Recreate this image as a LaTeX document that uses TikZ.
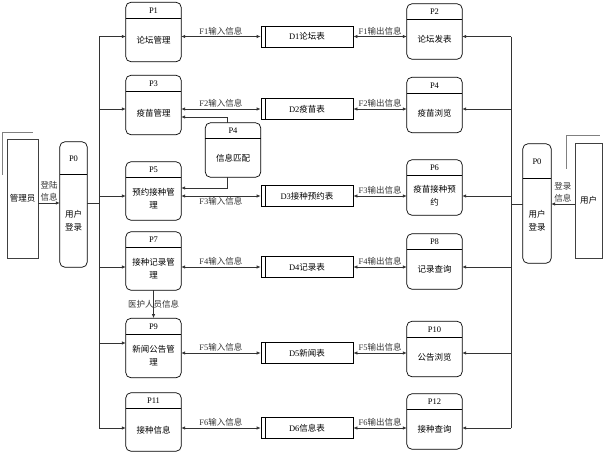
\documentclass[tikz,border=0pt]{standalone}
\usepackage{fontspec}
\setmainfont{Liberation Serif}
\newfontfamily\cjk{Noto Sans CJK SC}
\usetikzlibrary{arrows.meta}

% process box: [body height]{name}{body centre}{number}{text}
\newcommand{\procbox}[5][43pt]{%
  \node[procbody, minimum height=#1] (#2) at (#3) {#5};
  \draw[procline] ([yshift=16pt]#2.north west) rectangle (#2.south east);
  \draw[procline] (#2.north west) -- (#2.north east);
  \node[prochead] (#2h) at ([yshift=8pt]#2.north) {#4};
}

\begin{document}
\begin{tikzpicture}[
    x=1pt, y=-1pt,
    every node/.style={font=\fontsize{8.5}{13}\selectfont},
    procbody/.style={minimum width=55pt, inner sep=1pt, align=center,
      font=\cjk\fontsize{8.5}{13}\selectfont},
    prochead/.style={minimum width=55pt, minimum height=16pt, inner sep=0pt},
    procline/.style={rounded corners=5pt, line width=0.7pt},
    store/.style={draw, line width=0.7pt, minimum width=92pt, minimum height=21pt,
      inner sep=1pt, path picture={\draw[line width=0.7pt]
        ([xshift=4pt]path picture bounding box.north west) --
        ([xshift=4pt]path picture bounding box.south west);}},
    entity/.style={draw=black!75, line width=0.8pt, inner sep=1pt,
      font=\cjk\fontsize{8.5}{13}\selectfont},
    bracket/.style={draw=black!50, line width=1pt},
    link/.style={black!80, line width=0.7pt},
    flow/.style={link, -{Latex[length=4pt,width=3.5pt]}},
    dflow/.style={link, {Latex[length=4pt,width=3.5pt]}-{Latex[length=4pt,width=3.5pt]}},
    flabel/.style={inner sep=1pt},
    cjklabel/.style={inner sep=1pt, align=center, font=\cjk\fontsize{8.5}{12}\selectfont}
  ]
    \useasboundingbox (0,0) rectangle (605,453);

    % external entities
    \node[entity, minimum width=31pt, minimum height=119pt] (admin) at (22.5,198.5) {管理员};
    \draw[bracket] ([xshift=26pt,yshift=6pt]admin.north west) -| ([xshift=-4pt,yshift=-36pt]admin.north west);
    \node[entity, minimum width=27pt, minimum height=115pt] (user) at (588.5,200.5) {用户};
    \draw[bracket] ([xshift=25pt,yshift=7pt]user.north west) -| ([xshift=-8pt,yshift=-26pt]user.north west);

    % login processes
    \node[procbody, minimum width=27pt, minimum height=92pt] (p0l) at (73.5,221) {用户\\登录};
    \draw[procline] ([yshift=33pt]p0l.north west) rectangle (p0l.south east);
    \draw[procline] (p0l.north west) -- (p0l.north east);
    \node[prochead, minimum width=27pt, minimum height=33pt] (p0lh) at ([yshift=16.5pt]p0l.north) {P0};
    \node[procbody, minimum width=28pt, minimum height=84pt] (p0r) at (537,221) {用户\\登录};
    \draw[procline] ([yshift=35pt]p0r.north west) rectangle (p0r.south east);
    \draw[procline] (p0r.north west) -- (p0r.north east);
    \node[prochead, minimum width=28pt, minimum height=35pt] (p0rh) at ([yshift=17.5pt]p0r.north) {P0};

    % management processes
    \procbox{p1}{153.5,40}{P1}{论坛管理}
    \procbox{p3}{153.5,113}{P3}{疫苗管理}
    \procbox[42pt]{p5}{153.5,199}{P5}{预约接种管\\理}
    \procbox[42pt]{p7}{153.5,269}{P7}{接种记录管\\理}
    \procbox{p9}{153.5,356}{P9}{新闻公告管\\理}
    \procbox[42pt]{p11}{153.5,430}{P11}{接种信息}
    \procbox[38pt]{pm}{233,158}{P4}{信息匹配}

    % user processes
    \procbox[39pt]{p2}{434.5,39.5}{P2}{论坛发表}
    \procbox[39pt]{p4}{434.5,113}{P4}{疫苗浏览}
    \procbox[39pt]{p6}{434.5,195.5}{P6}{疫苗接种预\\约}
    \procbox[39pt]{p8}{434.5,269.5}{P8}{记录查询}
    \procbox[39pt]{p10}{434.5,357}{P10}{公告浏览}
    \procbox[39pt]{p12}{434.5,429.5}{P12}{接种查询}

    % data stores
    \node[store] (d1) at (307,36.5) {D1{\cjk 论坛表}};
    \node[store] (d2) at (307,109) {D2{\cjk 疫苗表}};
    \node[store] (d3) at (307,196) {D3{\cjk 接种预约表}};
    \node[store] (d4) at (307,267) {D4{\cjk 记录表}};
    \node[store] (d5) at (307,353) {D5{\cjk 新闻表}};
    \node[store] (d6) at (307,428) {D6{\cjk 信息表}};

    % flows to and from the stores
    \foreach \p/\d/\k/\side in {p1/d1/1/above, p3/d2/2/above, p5/d3/3/below,
        p7/d4/4/above, p9/d5/5/above, p11/d6/6/above}
      \draw[dflow] (\p.east |- \d) -- node[flabel, \side] {F\k{\cjk 输入信息}} (\d.west);
    \foreach \d/\p/\k in {d1/p2/1, d2/p4/2, d3/p6/3, d4/p8/4, d5/p10/5, d6/p12/6}
      \draw[dflow] (\d.east) -- node[flabel, above] {F\k{\cjk 输出信息}} (\p.west |- \d);

    % buses
    \coordinate (busl) at (99,0);
    \coordinate (busr) at (511,0);
    \coordinate (lrow) at (0,203);
    \coordinate (rrow) at (0,204);
    \coordinate (r9) at ([yshift=13pt]p9.west);
    \draw[link] (busl |- d1) -- (busl |- d6);
    \draw[link] (busr |- d1) -- (busr |- d6);
    \foreach \p/\d in {p1/d1, p3/d2, p5/d3, p7/d4, p11/d6}
      \draw[flow] (busl |- \d) -- (\p.west |- \d);
    \draw[flow] (busl |- r9) -- (r9);
    \foreach \p/\d in {p2/d1, p4/d2, p6/d3, p8/d4, p10/d5, p12/d6}
      \draw[flow] (busr |- \d) -- (\p.east |- \d);

    % login flows
    \draw[flow] (admin.east |- lrow) -- node[cjklabel, above] {登陆\\信息} (p0l.west |- lrow);
    \draw[link] (p0l.east |- lrow) -- (busl |- lrow);
    \draw[flow] (user.west |- rrow) -- node[cjklabel, above] {登录\\信息} (p0r.east |- rrow);
    \draw[link] (p0r.west |- rrow) -- (busr |- rrow);

    % matching and staff flows
    \draw[flow] ([xshift=-6pt]pmh.north) |- ([yshift=-4pt]p3.east);
    \draw[flow] ([xshift=-6pt]pm.south) |- ([yshift=11pt]p5.east);
    \draw[flow] (p7.south) -- node[cjklabel] {医护人员信息} (p9h.north);
  \end{tikzpicture}
\end{document}
